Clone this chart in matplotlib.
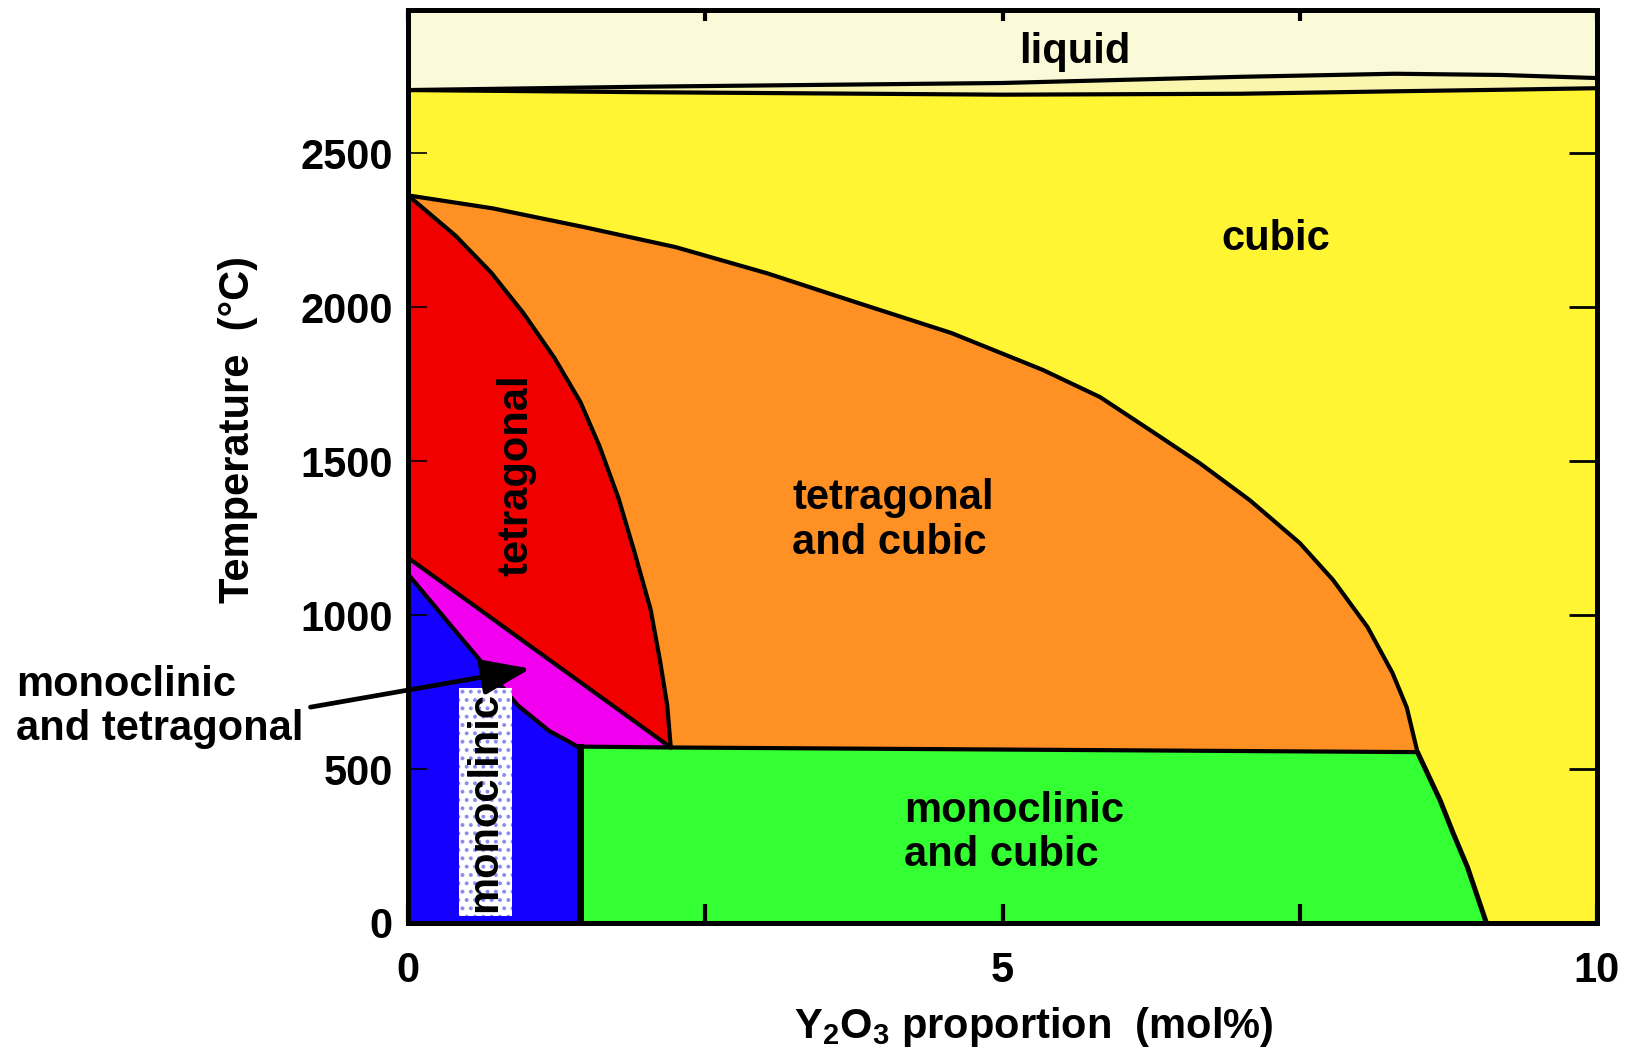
import numpy as np
import matplotlib
matplotlib.use('Agg')
import matplotlib.pyplot as plt
from matplotlib.patches import Polygon, Rectangle

plt.rcParams['font.family'] = ['Liberation Sans', 'DejaVu Sans']
plt.rcParams['font.weight'] = 'bold'
plt.rcParams['axes.labelweight'] = 'bold'
plt.rcParams['mathtext.fontset'] = 'custom'
plt.rcParams['mathtext.rm'] = 'Liberation Sans:bold'
plt.rcParams['mathtext.bf'] = 'Liberation Sans:bold'
plt.rcParams['hatch.linewidth'] = 1.6

# phase boundaries, x in mol% Y2O3, t in degC
liq_x = [0, 2, 5, 7, 8.3, 9.2, 10]
liquidus_t = [2705, 2716, 2728, 2748, 2758, 2754, 2744]
solidus_t = [2705, 2698, 2690, 2693, 2701, 2706, 2711]

# cubic / (tetragonal + cubic) solvus
cub_x = [0, 0.71, 1.48, 2.25, 3.02, 3.79, 4.57, 5.34, 5.82, 6.24, 6.66,
         7.08, 7.50, 7.78, 8.07, 8.28, 8.40, 8.49]
cub_t = [2363, 2321, 2260, 2195, 2110, 2013, 1916, 1796, 1708, 1601, 1493,
         1373, 1234, 1114, 961, 812, 700, 555]

# cubic / (monoclinic + cubic) below the eutectoid
cub_low_x = [8.49, 8.68, 8.79, 8.91, 9.07]
cub_low_t = [555, 399, 292, 182, 0]

# tetragonal / (tetragonal + cubic)
tet_x = [0, 0.40, 0.70, 0.97, 1.23, 1.45, 1.61, 1.77, 1.90, 2.04, 2.12, 2.18, 2.21]
tet_t = [2363, 2232, 2112, 1981, 1836, 1692, 1549, 1380, 1211, 1019, 851, 708, 570]

# tetragonal / (monoclinic + tetragonal)
mt_top_x = [0, 2.21]
mt_top_t = [1186, 570]

# monoclinic / (monoclinic + tetragonal)
mono_x = [0, 0.35, 0.66, 0.92, 1.19, 1.34, 1.42]
mono_t = [1133, 971, 828, 708, 623, 592, 574]

# eutectoid line
eut_x = [1.42, 2.21, 8.49]
eut_t = [573, 570, 555]

# monoclinic solvus (vertical)
mono_lim_x = 1.45

c_liquid = '#FAFAD9'
c_lens = '#FAF6AE'
c_cubic = '#FFF533'
c_tc = '#FF9124'
c_tet = '#F20000'
c_mt = '#F000EE'
c_mono = '#1400FF'
c_mc = '#33FF33'

fig = plt.figure(figsize=(16.29, 10.49), dpi=100)
ax = fig.add_axes([408/1629, 1 - 923/1049, 1189/1629, 913/1049])
ymax = 2965
ax.set_xlim(0, 10)
ax.set_ylim(0, ymax)

# fills
ax.fill_between([0, 10], 0, ymax, color=c_cubic, lw=0, zorder=0)
ax.fill_between(liq_x, liquidus_t, ymax, color=c_liquid, lw=0, zorder=1)
ax.fill_between(liq_x, solidus_t, liquidus_t, color=c_lens, lw=0, zorder=1)

tc_poly = list(zip(cub_x, cub_t)) + [(eut_x[1], eut_t[1])] + list(zip(tet_x[::-1], tet_t[::-1]))
ax.add_patch(Polygon(tc_poly, closed=True, fc=c_tc, lw=0, zorder=1))

tet_poly = list(zip(tet_x, tet_t)) + [(mt_top_x[0], mt_top_t[0])]
ax.add_patch(Polygon(tet_poly, closed=True, fc=c_tet, lw=0, zorder=1))

mt_poly = list(zip(mt_top_x, mt_top_t)) + list(zip(mono_x[::-1], mono_t[::-1]))
ax.add_patch(Polygon(mt_poly, closed=True, fc=c_mt, lw=0, zorder=1))

mono_poly = [(0, 0)] + list(zip(mono_x, mono_t)) + [(mono_lim_x, eut_t[0]), (mono_lim_x, 0)]
ax.add_patch(Polygon(mono_poly, closed=True, fc=c_mono, lw=0, zorder=1))

mc_poly = [(mono_lim_x, 0), (mono_lim_x, eut_t[0])] + list(zip(eut_x[1:], eut_t[1:])) + list(zip(cub_low_x, cub_low_t))
ax.add_patch(Polygon(mc_poly, closed=True, fc=c_mc, lw=0, zorder=1))

# boundary lines
lk = dict(color='black', lw=3.0, zorder=3, solid_capstyle='round', solid_joinstyle='round')
ax.plot(liq_x, liquidus_t, **lk)
ax.plot(liq_x, solidus_t, **lk)
ax.plot(cub_x, cub_t, **lk)
ax.plot(cub_low_x, cub_low_t, **dict(lk, lw=3.6))
ax.plot(tet_x, tet_t, **lk)
ax.plot(mt_top_x, mt_top_t, **lk)
ax.plot(mono_x, mono_t, **lk)
ax.plot(eut_x, eut_t, **lk)
ax.plot([mono_lim_x, mono_lim_x], [0, eut_t[0]], color='black', lw=5, zorder=3)

# dotted white box behind the rotated monoclinic label
ax.add_patch(Rectangle((0.43, 23), 0.445, 740, fc='white', ec='#8c8cf0',
                       lw=0, hatch='..', zorder=4))

fs = 30
ax.text(0.652, 393, 'monoclinic', rotation=90, ha='center', va='center',
        fontsize=fs, zorder=5)
ax.text(0.91, 1455, 'tetragonal', rotation=90, ha='center', va='center',
        fontsize=fs, zorder=5)
ax.text(3.23, 1308, 'tetragonal\nand cubic', ha='left', va='center',
        fontsize=fs, linespacing=1.15, zorder=5)
ax.text(4.17, 292, 'monoclinic\nand cubic', ha='left', va='center',
        fontsize=fs, linespacing=1.15, zorder=5)
ax.text(7.30, 2221, 'cubic', ha='center', va='center', fontsize=fs, zorder=5)
ax.text(5.61, 2828, 'liquid', ha='center', va='center', fontsize=fs, zorder=5)

ax.text(-3.30, 701, 'monoclinic\nand tetragonal', ha='left', va='center',
        fontsize=fs, linespacing=1.15, clip_on=False, zorder=5)
ax.annotate('', xy=(1.03, 826), xytext=(-0.82, 701),
            arrowprops=dict(arrowstyle='-|>,head_length=1.5,head_width=0.55',
                            mutation_scale=20, color='black', lw=3.4,
                            shrinkA=0, shrinkB=0),
            annotation_clip=False, zorder=6)

# axes
for s in ax.spines.values():
    s.set_linewidth(3.6)
    s.set_zorder(7)

ax.set_xticks([0, 2.5, 5, 7.5, 10])
ax.set_xticklabels(['0', '', '5', '', '10'])
ax.set_yticks([0, 500, 1000, 1500, 2000, 2500])
ax.set_yticklabels(['0', '500', '1000', '1500', '2000', '2500'])
ax.tick_params(axis='x', direction='in', top=True, bottom=True, pad=20,
               labelsize=fs, length=14, width=3, color='black')
ax.tick_params(axis='y', direction='in', left=True, right=True, pad=11,
               labelsize=fs, length=20, width=2, color='black')

for t in ax.yaxis.get_major_ticks():
    t.tick1line.set_color('0.55')
    t.tick1line.set_markersize(14)
    t.tick1line.set_markeredgewidth(1.2)
for t in ax.xaxis.get_major_ticks():
    t.tick2line.set_markersize(8)

ax.set_xlabel(r'Y$_\mathregular{2}$O$_\mathregular{3}$ proportion  (mol%)',
              fontsize=fs, fontweight='bold', va='center')
ax.xaxis.set_label_coords(0.5265, -0.114)
ax.set_ylabel('Temperature  (°C)', fontsize=fs, fontweight='bold', va='center')
ax.yaxis.set_label_coords(-0.143, 0.541)

fig.savefig('out.png', dpi=100)
